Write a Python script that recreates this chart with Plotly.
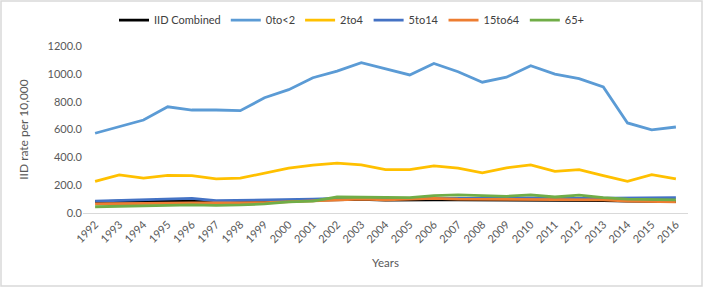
import plotly.graph_objects as go

years = [str(y) for y in range(1992, 2017)]

iid_combined = [82, 85, 82, 85, 88, 82, 85, 88, 90, 92, 95, 98, 92, 95, 95, 95, 95, 92, 95, 92, 95, 90, 85, 82, 82]
age_0to2 = [573, 620, 668, 763, 740, 740, 735, 828, 886, 972, 1020, 1080, 1038, 992, 1075, 1015, 940, 976, 1058, 998, 966, 906, 647, 598, 618]
age_2to4 = [227, 274, 251, 270, 268, 245, 250, 287, 323, 344, 358, 346, 312, 312, 339, 322, 288, 325, 346, 299, 311, 268, 228, 275, 245]
age_5to14 = [85, 90, 90, 98, 105, 88, 90, 92, 95, 100, 105, 105, 100, 100, 105, 105, 105, 108, 110, 108, 105, 105, 105, 105, 110]
age_15to64 = [65, 65, 65, 70, 72, 70, 72, 75, 80, 85, 95, 100, 95, 100, 105, 100, 100, 98, 100, 98, 100, 95, 85, 80, 80]
age_65plus = [45, 50, 50, 55, 58, 55, 58, 65, 80, 85, 115, 115, 115, 110, 125, 130, 125, 120, 130, 115, 128, 110, 100, 95, 95]

series = [
    ("IID Combined", iid_combined, "#000000"),
    ("0to<2", age_0to2, "#5B9BD5"),
    ("2to4", age_2to4, "#FFC000"),
    ("5to14", age_5to14, "#4472C4"),
    ("15to64", age_15to64, "#ED7D31"),
    ("65+", age_65plus, "#70AD47"),
]

fig = go.Figure()
for name, vals, color in series:
    fig.add_trace(go.Scatter(x=years, y=vals, name=name, mode="lines",
                             line=dict(color=color, width=2.8)))

font = "Lato, 'Open Sans', sans-serif"
L, R, T, B = 83, 15, 46, 74
PW, PH = 703 - L - R, 287 - T - B
fig.update_layout(
    width=703, height=287,
    margin=dict(l=L, r=R, t=T, b=B, autoexpand=False),
    paper_bgcolor="white", plot_bgcolor="white",
    font=dict(family=font, size=11, color="#595959"),
    legend=dict(orientation="h", xref="container", x=0.5, xanchor="center",
                yref="container", y=0.93, yanchor="middle",
                font=dict(size=11, color="#404040"), itemwidth=30,
                tracegroupgap=0),
    showlegend=True,
)
fig.update_xaxes(type="category", range=[-0.5, 24.5], tickangle=-45, showgrid=False,
                 automargin=False,
                 showline=True, linecolor="#D9D9D9", linewidth=1,
                 ticks="", tickfont=dict(size=11, color="#595959"),
                 title=dict(text="Years", font=dict(size=11.5, color="#595959"), standoff=14))
fig.update_yaxes(range=[0, 1200], dtick=200, tickformat=".1f", showgrid=False,
                 automargin=False,
                 zeroline=False, showline=False, ticks="",
                 tickfont=dict(size=11, color="#595959"),
                 title=dict(text="IID rate per 10,000", font=dict(size=12, color="#595959"), standoff=16))
fig.add_shape(type="rect", xref="paper", yref="paper",
              x0=-(L - 1) / PW, x1=1 + (R - 1) / PW,
              y0=-(B - 1) / PH, y1=1 + (T - 1) / PH,
              line=dict(color="#D9D9D9", width=1.5), layer="below")
fig.write_html("out.html", post_script="document.body.style.margin='0';",
               config={"displayModeBar": False})
